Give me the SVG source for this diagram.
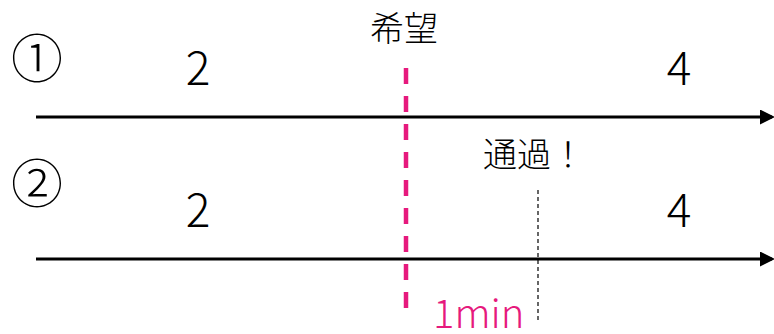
<svg xmlns="http://www.w3.org/2000/svg" width="774" height="334" viewBox="0 0 774 334">
<defs>
<marker id="arr" markerWidth="5" markerHeight="5" refX="4" refY="2.5" orient="auto" markerUnits="strokeWidth">
<path d="M0,0 L5,2.5 L0,5 Z" fill="#000"/>
</marker>
<style>
.t{font-family:"Noto Sans CJK JP","Noto Sans",sans-serif;font-weight:300;fill:#000}
.axis{stroke:#000;stroke-width:3;fill:none}
.pink{stroke:#E6197D;stroke-width:4.5;stroke-dasharray:16 12;fill:none}
.thin{stroke:#000;stroke-width:1.2;stroke-dasharray:4 3;fill:none}
</style>
</defs>
<rect width="774" height="334" fill="#fff"/>
<g id="connectors">
<line class="axis" x1="36" y1="117" x2="772" y2="117" marker-end="url(#arr)"/>
<line class="axis" x1="36" y1="259" x2="772" y2="259" marker-end="url(#arr)"/>
<line class="pink" x1="406" y1="68" x2="406" y2="320"/>
<line class="thin" x1="538" y1="190" x2="538" y2="323"/>
</g>
<g id="label-kibou"><text class="t" x="404" y="41" font-size="34" text-anchor="middle">希望</text></g>
<g id="label-1"><text class="t" x="37" y="78" font-size="52" text-anchor="middle">①</text></g>
<g id="label-2"><text class="t" x="37" y="203" font-size="52" text-anchor="middle">②</text></g>
<g id="n1-2"><text class="t" x="198" y="85" font-size="46" text-anchor="middle">2</text></g>
<g id="n1-4"><text class="t" x="679" y="85" font-size="46" text-anchor="middle">4</text></g>
<g id="n2-2"><text class="t" x="198" y="227" font-size="46" text-anchor="middle">2</text></g>
<g id="n2-4"><text class="t" x="679" y="227" font-size="46" text-anchor="middle">4</text></g>
<g id="label-tsuuka"><text class="t" x="483" y="167" font-size="34">通過！</text></g>
<g id="label-1min"><text class="t" x="433" y="328" font-size="40" style="fill:#E6197D">1min</text></g>
</svg>
